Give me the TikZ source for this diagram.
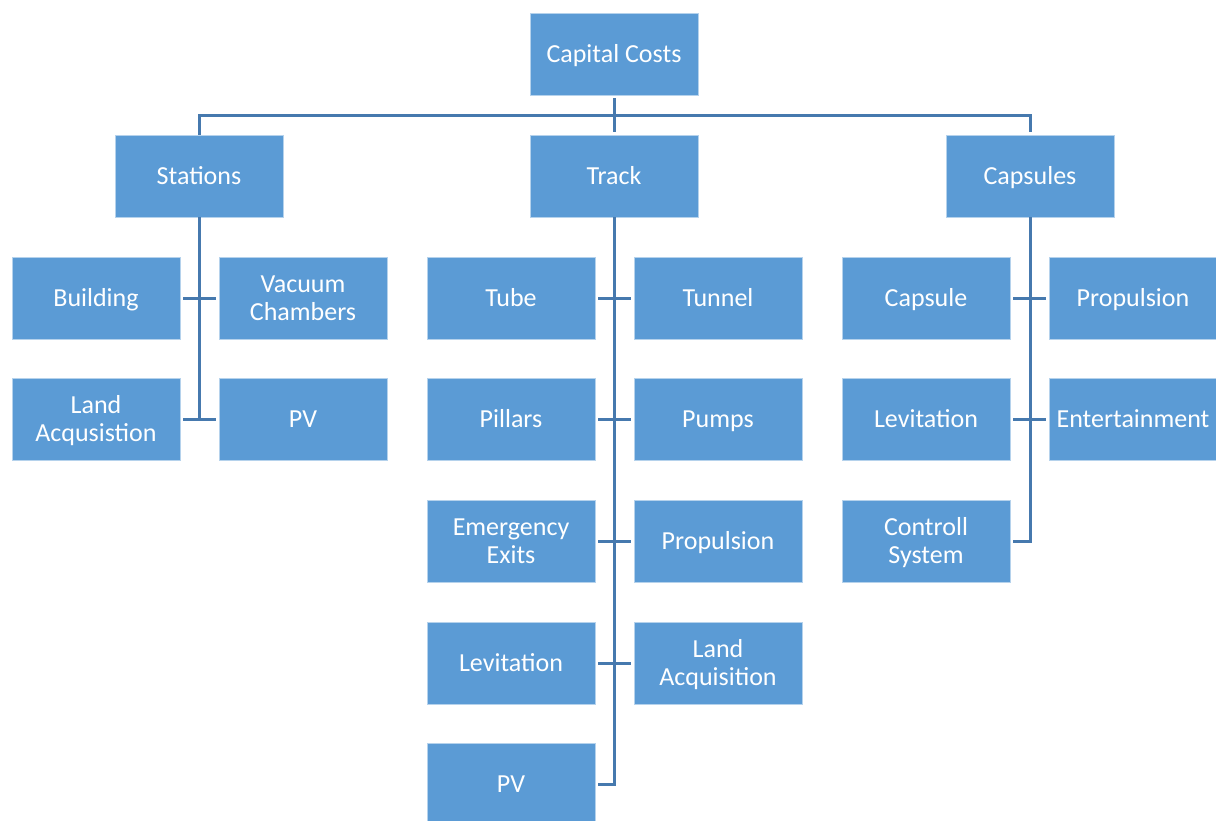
\documentclass[tikz,border=0pt]{standalone}
\usepackage{fontspec}
\setmainfont{Carlito}
\definecolor{boxblue}{RGB}{91,155,213}
\definecolor{linkblue}{RGB}{70,121,174}
\tikzset{
  unit/.style={rectangle, fill=boxblue, draw=white!55!boxblue, line width=0.8pt,
    minimum width=168pt, minimum height=82pt, inner sep=0pt, text=white,
    text height=22pt, text depth=6pt,
    align=center, font=\fontsize{26pt}{28pt}\selectfont},
  unittwo/.style={unit, text height=50pt},
  link/.style={draw=linkblue, line width=3pt},
  stub/.style={link, shorten <=3pt, shorten >=3pt}
}
\begin{document}
\begin{tikzpicture}[x=1pt,y=-1pt]
\useasboundingbox (0,0) rectangle (1216,820);
% top level
\node[unit] (root) at (614,54) {Capital Costs};
\node[unit] (st) at (199,176) {Stations};
\node[unit] (tr) at (614,176) {Track};
\node[unit] (ca) at (1030,176) {Capsules};
% stations
\node[unit] (stb) at (96,298) {Building};
\node[unittwo] (stv) at (303,298) {Vacuum\\Chambers};
\node[unittwo] (stl) at (96,419) {Land\\Acqusistion};
\node[unit] (stp) at (303,419) {PV};
% track
\node[unit] (trt) at (511,298) {Tube};
\node[unit] (trn) at (718,298) {Tunnel};
\node[unit] (trp) at (511,419) {Pillars};
\node[unit] (tru) at (718,419) {Pumps};
\node[unittwo] (tre) at (511,541) {Emergency\\Exits};
\node[unit] (trr) at (718,541) {Propulsion};
\node[unit] (trl) at (511,663) {Levitation};
\node[unittwo] (tra) at (718,663) {Land\\Acquisition};
\node[unit] (trv) at (511,784) {PV};
% capsules
\node[unit] (cac) at (926,298) {Capsule};
\node[unit] (cap) at (1133,298) {Propulsion};
\node[unit] (cal) at (926,419) {Levitation};
\node[unit] (cae) at (1133,419) {Entertainment};
\node[unittwo] (cas) at (926,541) {Controll\\System};
% root to first level
\coordinate (bus) at (614,115);
\draw[link, shorten <=3pt] (root.south) -- (bus);
\draw[link, shorten >=3pt] (st.north) |- (bus) -| (ca.north);
\draw[link, shorten >=3pt] (bus) -- (tr.north);
% station spine and stubs
\draw[link] (st.south) |- ([xshift=3pt]stl.east);
\draw[stub] (stb.east) -- (stv.west);
\draw[stub] (stl.east) -- (stp.west);
% track spine and stubs
\draw[link] (tr.south) |- ([xshift=3pt]trv.east);
\draw[stub] (trt.east) -- (trn.west);
\draw[stub] (trp.east) -- (tru.west);
\draw[stub] (tre.east) -- (trr.west);
\draw[stub] (trl.east) -- (tra.west);
% capsule spine and stubs
\draw[link] (ca.south) |- ([xshift=3pt]cas.east);
\draw[stub] (cac.east) -- (cap.west);
\draw[stub] (cal.east) -- (cae.west);
\end{tikzpicture}
\end{document}
